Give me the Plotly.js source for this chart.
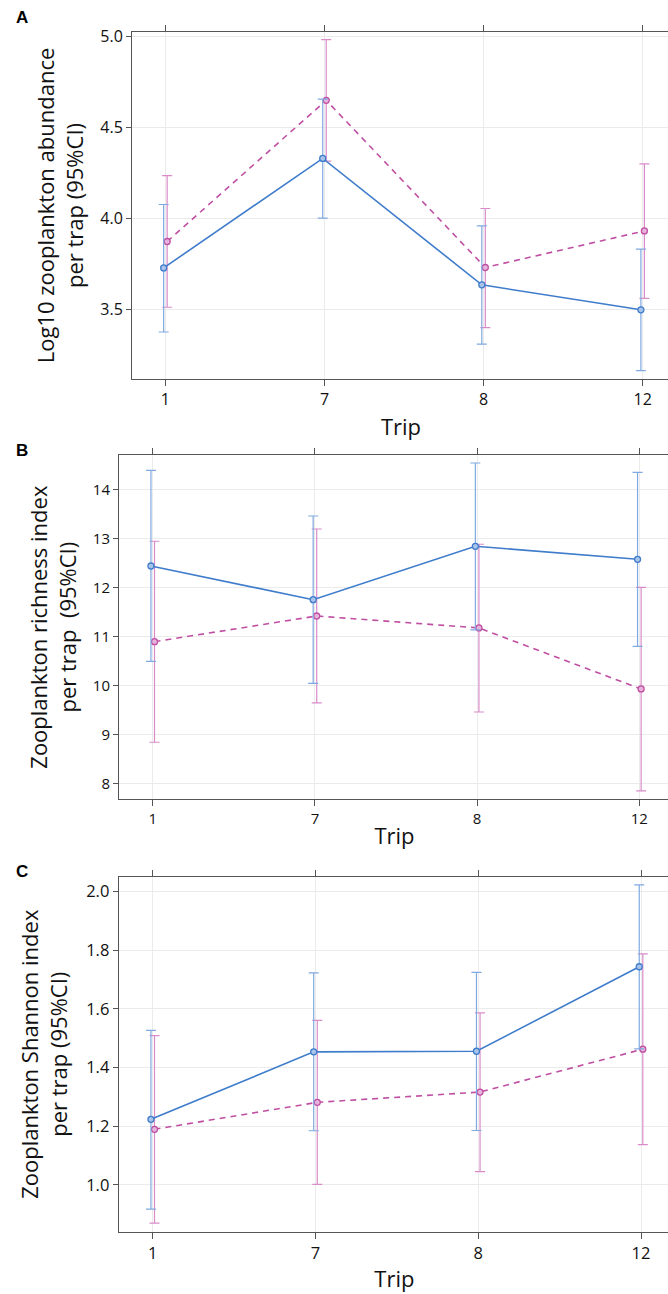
<!DOCTYPE html>
<html>
<head>
<meta charset="utf-8">
<script src="https://cdn.plot.ly/plotly-3.0.1.min.js"></script>
<style>
  html, body { margin: 0; padding: 0; overflow: hidden; background: #fff; }
  #chart { width: 700px; height: 1294px; }
</style>
</head>
<body>
<div id="chart"></div>
<script>
// ---- Data ----
const trips = ['1', '7', '8', '12'];

// Panel A: Log10 zooplankton abundance per trap (95% CI)
const absBlue   = [3.727, 4.328, 3.634, 3.497];
const absBlueLo = [3.375, 4.000, 3.308, 3.163];
const absBlueHi = [4.075, 4.654, 3.958, 3.830];
const absPink   = [3.872, 4.647, 3.729, 3.930];
const absPinkLo = [3.511, 4.313, 3.399, 3.560];
const absPinkHi = [4.233, 4.980, 4.053, 4.298];

// Panel B: Zooplankton richness index per trap (95% CI)
const richBlue   = [12.435, 11.747, 12.837, 12.571];
const richBlueLo = [10.49, 10.04, 11.13, 10.796];
const richBlueHi = [14.388, 13.455, 14.537, 14.347];
const richPink   = [10.89, 11.414, 11.17, 9.925];
const richPinkLo = [8.837, 9.64, 9.455, 7.843];
const richPinkHi = [12.94, 13.19, 12.878, 12.0];

// Panel C: Zooplankton Shannon index per trap (95% CI)
const shanBlue   = [1.223, 1.453, 1.455, 1.743];
const shanBlueLo = [0.917, 1.184, 1.185, 1.463];
const shanBlueHi = [1.526, 1.722, 1.724, 2.022];
const shanPink   = [1.189, 1.281, 1.316, 1.462];
const shanPinkLo = [0.869, 1.001, 1.045, 1.137];
const shanPinkHi = [1.508, 1.560, 1.586, 1.787];

// ---- Styling ----
const BLUE = '#3f7ccb', BLUE_ERR = '#7fa9e0', BLUE_FILL = '#a9c4ea';
const PINK = '#c04fa3', PINK_ERR = '#d98cc9', PINK_FILL = '#e6b3da';
const FONT = 'Open Sans, Noto Sans, DejaVu Sans, sans-serif';
const DODGE = 0.011;

const idx = trips.map((_, i) => i);

function series(mean, lo, hi, xa, ya, isBlue) {
  return {
    type: 'scatter',
    mode: 'lines+markers',
    x: idx.map(i => i + (isBlue ? -DODGE : DODGE)),
    y: mean,
    xaxis: xa, yaxis: ya,
    line: { color: isBlue ? BLUE : PINK, width: 1.6, dash: isBlue ? 'solid' : '6px,5px' },
    marker: { symbol: 'circle', size: 6, color: isBlue ? BLUE_FILL : PINK_FILL,
              line: { color: isBlue ? BLUE : PINK, width: 1.3 } },
    error_y: {
      type: 'data', symmetric: false,
      array: mean.map((m, i) => hi[i] - m),
      arrayminus: mean.map((m, i) => m - lo[i]),
      color: isBlue ? BLUE_ERR : PINK_ERR, thickness: 1.2, width: 5
    },
    showlegend: false,
    hoverinfo: 'y'
  };
}

const data = [
  series(absPink, absPinkLo, absPinkHi, 'x', 'y', false),
  series(absBlue, absBlueLo, absBlueHi, 'x', 'y', true),
  series(richPink, richPinkLo, richPinkHi, 'x2', 'y2', false),
  series(richBlue, richBlueLo, richBlueHi, 'x2', 'y2', true),
  series(shanPink, shanPinkLo, shanPinkHi, 'x3', 'y3', false),
  series(shanBlue, shanBlueLo, shanBlueHi, 'x3', 'y3', true)
];

const W = 700, H = 1294;
function xAxis(anchor, left, range, tickSize, standoff) {
  return {
    anchor: anchor,
    domain: [left / W, 670 / W],
    range: range,
    tickmode: 'array', tickvals: idx, ticktext: trips,
    showline: true, linecolor: '#555', linewidth: 1, mirror: 'ticks',
    ticks: 'outside', ticklen: 6, tickcolor: '#555', tickwidth: 1,
    showgrid: true, gridcolor: '#ebebeb', gridwidth: 1,
    zeroline: false,
    tickfont: { family: FONT, size: tickSize, color: '#111' },
    title: { text: 'Trip', font: { family: FONT, size: 22, color: '#111' }, standoff: standoff }
  };
}
function yAxis(anchor, top, bottom, range, dtick, fmt, title, tickSize, standoff) {
  return {
    anchor: anchor,
    domain: [1 - bottom / H, 1 - top / H],
    range: range,
    dtick: dtick, tickformat: fmt,
    showline: true, linecolor: '#555', linewidth: 1, mirror: true,
    ticks: 'outside', ticklen: 5, tickcolor: '#555', tickwidth: 1,
    showgrid: true, gridcolor: '#ebebeb', gridwidth: 1,
    zeroline: false,
    tickfont: { family: FONT, size: tickSize, color: '#111' },
    title: { text: title, font: { family: FONT, size: 22, color: '#111' }, standoff: standoff }
  };
}

const layout = {
  width: W, height: H,
  margin: { l: 0, r: 0, t: 0, b: 0 },
  paper_bgcolor: '#fff', plot_bgcolor: '#fff',
  showlegend: false,
  xaxis:  xAxis('y', 132, [-0.21, 3.172], 16, 10),
  yaxis:  yAxis('x', 32, 379, [3.117, 5.022], 0.5, '.1f',
                'Log10 zooplankton abundance<br>per trap (95%CI)', 16, 10),
  xaxis2: xAxis('y2', 119, [-0.208, 3.189], 15, 1),
  yaxis2: yAxis('x2', 455, 799.3, [7.673, 14.70], 1, 'd',
                'Zooplankton richness index<br>per trap  (95%CI)', 15, 10),
  xaxis3: xAxis('y3', 118.7, [-0.209, 3.178], 16.5, 9),
  yaxis3: yAxis('x3', 876.7, 1231.7, [0.840, 2.050], 0.2, '.1f',
                'Zooplankton Shannon index<br>per trap (95%CI)', 16.5, 12),
  annotations: [
    { text: '<b>A</b>', x: 22 / W, y: 1 - 17 / H, xref: 'paper', yref: 'paper',
      xanchor: 'center', yanchor: 'middle', showarrow: false,
      font: { family: 'Liberation Sans, Arial, sans-serif', size: 17, color: '#000' } },
    { text: '<b>B</b>', x: 22 / W, y: 1 - 450 / H, xref: 'paper', yref: 'paper',
      xanchor: 'center', yanchor: 'middle', showarrow: false,
      font: { family: 'Liberation Sans, Arial, sans-serif', size: 17, color: '#000' } },
    { text: '<b>C</b>', x: 22 / W, y: 1 - 871 / H, xref: 'paper', yref: 'paper',
      xanchor: 'center', yanchor: 'middle', showarrow: false,
      font: { family: 'Liberation Sans, Arial, sans-serif', size: 17, color: '#000' } }
  ]
};

Plotly.newPlot('chart', data, layout, { displayModeBar: false, staticPlot: true });
</script>
</body>
</html>
